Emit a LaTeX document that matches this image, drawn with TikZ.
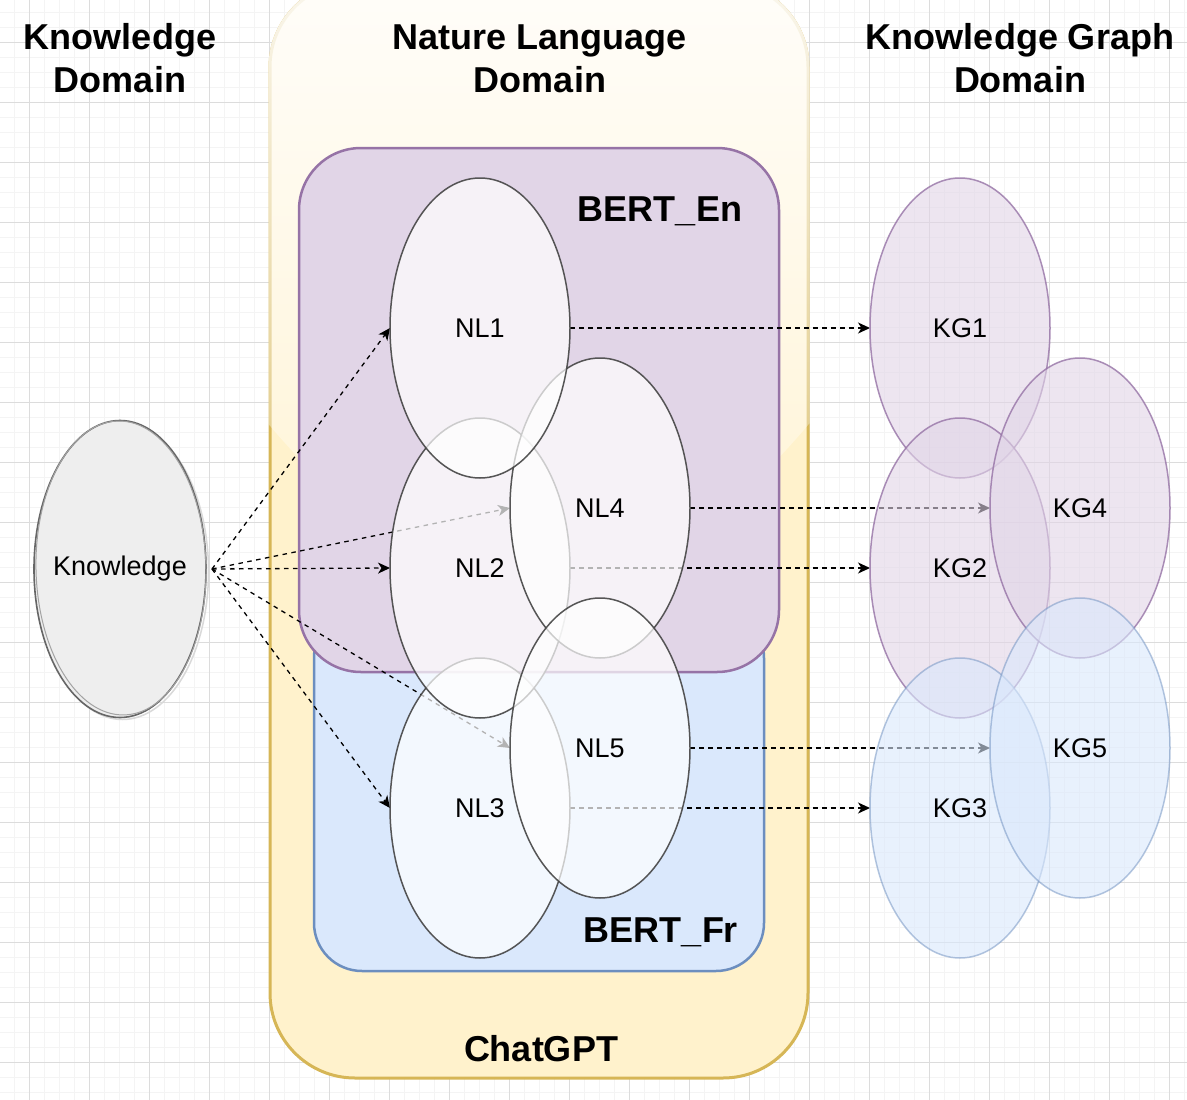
\documentclass[tikz,border=0pt]{standalone}
\usepackage{fontspec}
\setmainfont{Liberation Sans}
\usetikzlibrary{shapes.geometric,arrows.meta,fadings}
\definecolor{chatfill}{HTML}{FFF2CC}
\definecolor{chatdraw}{HTML}{D6B656}
\definecolor{purfill}{HTML}{E1D5E7}
\definecolor{purdraw}{HTML}{9673A6}
\definecolor{bluefill}{HTML}{DAE8FC}
\definecolor{bluedraw}{HTML}{6C8EBF}
\definecolor{knowfill}{HTML}{EEEEEE}
\definecolor{knowdraw}{HTML}{666666}
\definecolor{nldraw}{HTML}{444444}
\definecolor{minorgrid}{HTML}{F4F4F4}
\definecolor{majorgrid}{HTML}{DCDCDC}
\tikzfading[name=glassfade, top color=transparent!10, bottom color=transparent!90]
\tikzset{
  bigtitle/.style={font=\fontsize{36}{43}\selectfont\bfseries, align=center, inner sep=0pt},
  boxlabel/.style={font=\fontsize{36}{43}\selectfont\bfseries, inner sep=0pt, anchor=base},
  chatbox/.style={draw=chatdraw, fill=chatfill, line width=3pt, rounded corners=85pt, inner sep=0pt, outer sep=0pt},
  enbox/.style={draw=purdraw, fill=purfill, line width=2.5pt, rounded corners=62pt, inner sep=0pt, outer sep=0pt},
  frbox/.style={draw=bluedraw, fill=bluefill, line width=2.5pt, rounded corners=48pt, inner sep=0pt, outer sep=0pt},
  oval/.style={ellipse, minimum width=180pt, minimum height=300pt, inner sep=0pt, outer sep=0pt,
    font=\fontsize{27}{32}\selectfont, text opacity=1},
  nlnode/.style={oval, fill=white, fill opacity=0.7, draw=nldraw, draw opacity=0.9, line width=1.5pt},
  kgpur/.style={oval, fill=purfill, fill opacity=0.6, draw=purdraw, draw opacity=0.8, line width=1.5pt},
  kgblue/.style={oval, fill=bluefill, fill opacity=0.6, draw=bluedraw, draw opacity=0.5, line width=1.5pt},
  flow/.style={line width=1.3pt, dash pattern=on 4.5pt off 4.5pt, -{Stealth[length=12pt,width=11pt,inset=3.5pt]}},
}
\begin{document}
\begin{tikzpicture}[x=1pt,y=-1pt]
\useasboundingbox (0,0) rectangle (1187,1100);
\fill[white] (0,0) rectangle (1187,1100);
% grid
\foreach \i in {0,...,78} { \draw[minorgrid, line width=1pt] ({14+15*\i},0) -- ({14+15*\i},1100); }
\foreach \i in {0,...,72} { \draw[minorgrid, line width=1pt] (0,{12+15*\i}) -- (1187,{12+15*\i}); }
\foreach \i in {0,...,19} { \draw[majorgrid, line width=1pt] ({29+60*\i},0) -- ({29+60*\i},1100); }
\foreach \i in {0,...,17} { \draw[majorgrid, line width=1pt] (0,{42+60*\i}) -- (1187,{42+60*\i}); }

% ChatGPT container
\node[chatbox, minimum width=538pt, minimum height=1096pt] (chat) at (539,530) {};
\begin{scope}
  \clip[rounded corners=86.5pt] (268.5,-19.5) rectangle (809.5,1079.5);
  \path[fill=white, path fading=glassfade] (266,-20) -- (266,420.4)
     .. controls (449.3,639.6) and (628.7,639.6) .. (812,420.4) -- (812,-20) -- cycle;
\end{scope}

% BERT boxes
\node[frbox, minimum width=450pt, minimum height=361pt] (fr) at (539,790.5) {};
\node[enbox, minimum width=480pt, minimum height=524pt] (en) at (539,410) {};

% titles
\node[bigtitle] (t1) at (120,58.5) {Knowledge\\Domain};
\node[bigtitle] (t2) at (540,58.5) {Nature Language\\Domain};
\node[bigtitle] (t3) at (1020,58.5) {Knowledge Graph\\Domain};
\node[boxlabel] (enlab) at (660,221) {BERT\_En};
\node[boxlabel] (frlab) at (661,942) {BERT\_Fr};
\node[boxlabel] (chatlab) at (541,1061) {ChatGPT};

% Knowledge (sketch style)
\draw[gray!30, line width=1.5pt] (122.5,571.5) ellipse [x radius=86pt, y radius=148pt];
\node[ellipse, minimum width=172pt, minimum height=297pt, inner sep=0pt, outer sep=0pt,
  fill=knowfill, draw=knowdraw, line width=1.6pt,
  label={[font=\fontsize{27}{32}\selectfont, inner sep=0pt]center:Knowledge}] (know) at (120,569) {};
\draw[knowdraw!60, line width=1pt, rotate around={1.2:(120,569)}] (121,568) ellipse [x radius=85pt, y radius=147pt];
\coordinate (kout) at ([xshift=6pt]know.east);

% NL / KG positions
\path (480,328) coordinate (p1) (480,568) coordinate (p2) (480,808) coordinate (p3)
      (600,508) coordinate (p4) (600,748) coordinate (p5);

% invisible anchors for arrows (drawn below the translucent ovals)
\path (p1) node[oval] (NL1) {} (p2) node[oval] (NL2) {} (p3) node[oval] (NL3) {}
      (p4) node[oval] (NL4) {} (p5) node[oval] (NL5) {};
\path (960,328) node[oval] (KG1) {} (960,568) node[oval] (KG2) {} (960,808) node[oval] (KG3) {}
      (1080,508) node[oval] (KG4) {} (1080,748) node[oval] (KG5) {};

\draw[flow] (kout) -- (NL1.west);
\draw[flow] (kout) -- (NL2.west);
\draw[flow] (kout) -- (NL3.west);
\draw[flow] (kout) -- (NL4.west);
\draw[flow] (kout) -- (NL5.west);
\draw[flow] (NL1.east) -- (KG1.west);
\draw[flow] (NL2.east) -- (KG2.west);
\draw[flow] (NL3.east) -- (KG3.west);
\draw[flow] (NL4.east) -- (KG4.west);
\draw[flow] (NL5.east) -- (KG5.west);

% NL ovals
\node[nlnode] (NL3v) at (p3) {NL3};
\node[nlnode] (NL2v) at (p2) {NL2};
\node[nlnode] (NL4v) at (p4) {NL4};
\node[nlnode] (NL1v) at (p1) {NL1};
\node[nlnode] (NL5v) at (p5) {NL5};

% KG ovals
\node[kgpur] (KG1v) at (KG1) {KG1};
\node[kgpur] (KG2v) at (KG2) {KG2};
\node[kgpur] (KG4v) at (KG4) {KG4};
\node[kgblue] (KG3v) at (KG3) {KG3};
\node[kgblue] (KG5v) at (KG5) {KG5};
\end{tikzpicture}
\end{document}
